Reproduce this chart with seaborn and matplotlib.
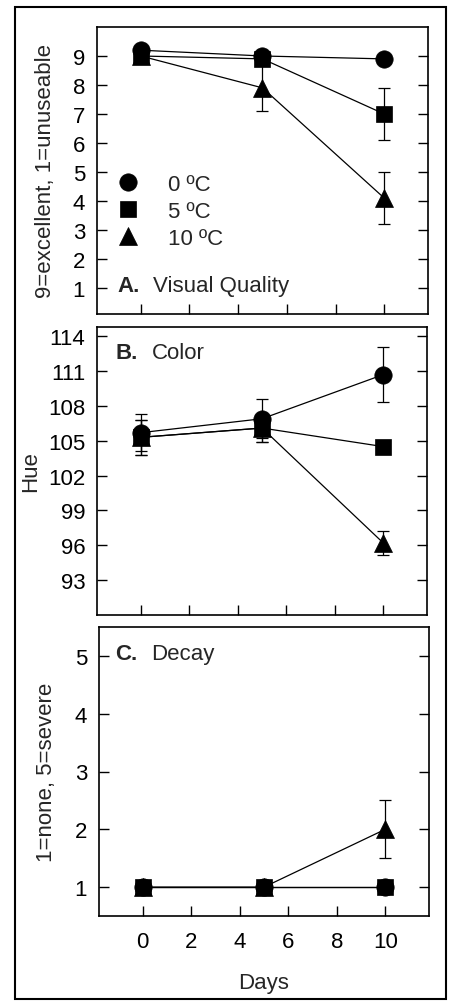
import matplotlib
matplotlib.use('Agg')
import matplotlib.pyplot as plt
import seaborn as sns
import pandas as pd
from matplotlib.lines import Line2D
from matplotlib.patches import Rectangle

# ---------------- data ----------------
days = [0, 5, 10]
temps = ['0 ºC', '5 ºC', '10 ºC']

quality_0 = [9.2, 9.0, 8.9]
quality_5 = [9.0, 8.9, 7.0]
quality_10 = [9.0, 7.9, 4.1]
quality_err_0 = [0.1, 0.1, 0.1]
quality_err_5 = [0.1, 0.2, 0.9]
quality_err_10 = [0.1, 0.8, 0.9]

hue_0 = [105.7, 106.9, 110.7]
hue_5 = [105.3, 106.1, 104.5]
hue_10 = [105.3, 106.1, 96.2]
hue_err_0 = [1.6, 1.7, 2.4]
hue_err_5 = [1.5, 1.2, 0.3]
hue_err_10 = [1.5, 1.2, 1.0]

decay_0 = [1.0, 1.0, 1.0]
decay_5 = [1.0, 1.0, 1.0]
decay_10 = [1.0, 1.0, 2.0]
decay_err_0 = [0.0, 0.0, 0.0]
decay_err_5 = [0.0, 0.0, 0.0]
decay_err_10 = [0.0, 0.0, 0.5]

x_ticks = [0, 2, 4, 6, 8, 10]
quality_ticks = [1, 2, 3, 4, 5, 6, 7, 8, 9]
hue_ticks = [93, 96, 99, 102, 105, 108, 111, 114]
decay_ticks = [1, 2, 3, 4, 5]

# ---------------- style ----------------
sns.set_style('ticks')
plt.rcParams['font.family'] = ['Liberation Sans', 'DejaVu Sans']
plt.rcParams['font.size'] = 16

markers = {'0 ºC': 'o', '5 ºC': 's', '10 ºC': '^'}
msizes = {'0 ºC': 12.5, '5 ºC': 11, '10 ºC': 13}

W, H = 450, 1003
fig = plt.figure(figsize=(W / 100, H / 100), dpi=100)


def ax_at(left, top, right, bottom):
    return fig.add_axes([left / W, 1 - bottom / H, (right - left) / W, (bottom - top) / H])


def panel(ax, vals, errs, ylim, yticks):
    for t, v, e in zip(temps, vals, errs):
        df = pd.DataFrame({'Day': days, 'Value': v})
        sns.lineplot(data=df, x='Day', y='Value', ax=ax, color='black', lw=0.9,
                     marker=markers[t], markersize=msizes[t],
                     markeredgecolor='black', markeredgewidth=0.5, zorder=3)
        ax.errorbar(days, v, yerr=e, fmt='none', ecolor='black', elinewidth=0.9,
                    capsize=4.3, capthick=0.9, zorder=2)
    ax.set_xlim(-1.8, 11.8)
    ax.set_ylim(*ylim)
    ax.set_xticks(x_ticks)
    ax.set_yticks(yticks)
    ax.tick_params(axis='both', direction='in', length=7, width=1, color='black',
                   labelsize=16, labelcolor='black')
    ax.tick_params(axis='y', left=True, right=True, pad=8.5)
    ax.tick_params(axis='x', bottom=True, top=False, pad=10.5)
    for s in ax.spines.values():
        s.set_visible(True)
        s.set_color('black')
        s.set_linewidth(1.2)
    ax.set_xlabel('')
    ax.set_ylabel('')


# Panel A
axA = ax_at(97, 28, 428, 315)
panel(axA, [quality_0, quality_5, quality_10],
      [quality_err_0, quality_err_5, quality_err_10], (0.1, 10.0), quality_ticks)
axA.tick_params(axis='x', labelbottom=False)
axA.set_ylabel('9=excellent, 1=unuseable', fontsize=16)
axA.yaxis.set_label_coords(-0.157, 0.5)
axA.yaxis.label.set_va('center')
axA.text(0.063, 0.08, 'A.', transform=axA.transAxes, fontsize=16, fontweight='bold', va='baseline')
axA.text(0.169, 0.08, 'Visual Quality', transform=axA.transAxes, fontsize=16, va='baseline')
handles = [Line2D([], [], ls='none', marker=markers[t], markersize=msizes[t], color='black',
                  markeredgecolor='black', markeredgewidth=0.5) for t in temps]
axA.legend(handles, temps, loc='upper left', bbox_to_anchor=(0.06, 0.488), frameon=False,
           fontsize=16, handlelength=1.0, handletextpad=1.3, labelspacing=0.27,
           borderpad=0, borderaxespad=0)

# Panel B
axB = ax_at(97, 328, 427, 616)
panel(axB, [hue_0, hue_5, hue_10], [hue_err_0, hue_err_5, hue_err_10], (90.0, 114.8), hue_ticks)
axB.tick_params(axis='x', labelbottom=False)
axB.set_ylabel('Hue', fontsize=16)
axB.yaxis.set_label_coords(-0.2, 0.5)
axB.yaxis.label.set_va('center')
axB.text(0.055, 0.892, 'B.', transform=axB.transAxes, fontsize=16, fontweight='bold', va='baseline')
axB.text(0.167, 0.892, 'Color', transform=axB.transAxes, fontsize=16, va='baseline')

# Panel C
axC = ax_at(99, 628, 429, 917)
panel(axC, [decay_0, decay_5, decay_10], [decay_err_0, decay_err_5, decay_err_10], (0.5, 5.5), decay_ticks)
axC.set_ylabel('1=none, 5=severe', fontsize=16)
axC.yaxis.set_label_coords(-0.16, 0.5)
axC.yaxis.label.set_va('center')
axC.set_xlabel('Days', fontsize=16, labelpad=15)
axC.text(0.048, 0.889, 'C.', transform=axC.transAxes, fontsize=16, fontweight='bold', va='baseline')
axC.text(0.158, 0.889, 'Decay', transform=axC.transAxes, fontsize=16, va='baseline')

# outer frame
fig.patches.append(Rectangle((15 / W, 1 - 1000 / H), 431 / W, 992 / H, transform=fig.transFigure,
                             fill=False, edgecolor='black', linewidth=1.5))

fig.savefig('out.png', dpi=100)
